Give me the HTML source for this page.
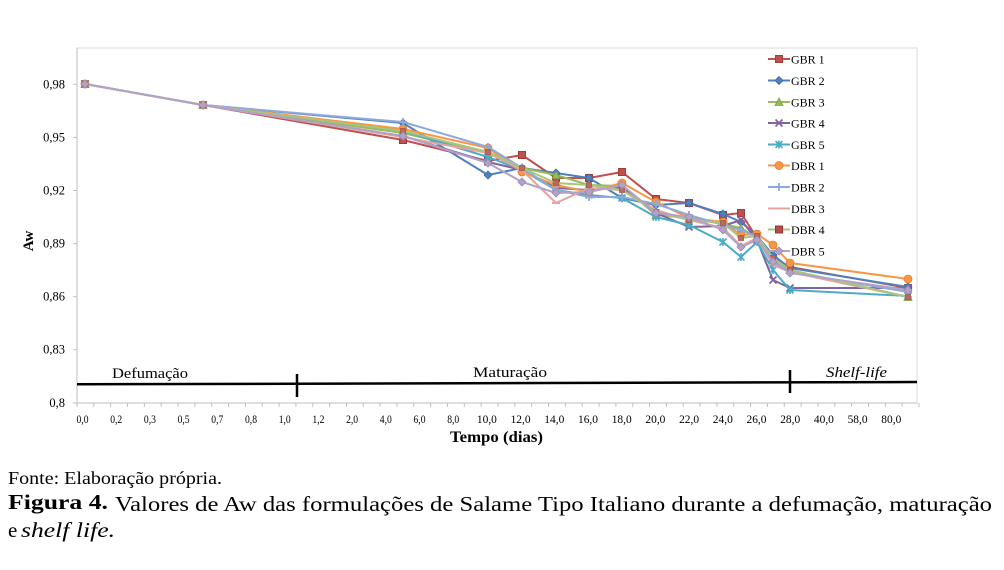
<!DOCTYPE html>
<html><head><meta charset="utf-8"><style>
html,body{margin:0;padding:0;background:#fff;}
svg{display:block;}
text{font-family:"Liberation Serif",serif;fill:#000;}
</style></head><body>
<svg width="1004" height="570" viewBox="0 0 1004 570" xmlns="http://www.w3.org/2000/svg">
<defs>
<marker id="mSq" markerUnits="userSpaceOnUse" markerWidth="10" markerHeight="10" refX="5" refY="5" viewBox="0 0 10 10"><rect x="1.5" y="1.5" width="7" height="7" fill="#C0504D" stroke="#A33B38" stroke-width="1"/></marker>
<marker id="mDi" markerUnits="userSpaceOnUse" markerWidth="10" markerHeight="10" refX="5" refY="5" viewBox="0 0 10 10"><path d="M5 1 L9 5 L5 9 L1 5Z" fill="#4F81BD" stroke="#3A6AA5" stroke-width="0.8"/></marker>
<marker id="mTri" markerUnits="userSpaceOnUse" markerWidth="10" markerHeight="10" refX="5" refY="5" viewBox="0 0 10 10"><path d="M5 1 L9 8.5 L1 8.5Z" fill="#9BBB59" stroke="#7E9E3E" stroke-width="0.8"/></marker>
<marker id="mX" markerUnits="userSpaceOnUse" markerWidth="10" markerHeight="10" refX="5" refY="5" viewBox="0 0 10 10"><path d="M1.5 1.5 L8.5 8.5 M8.5 1.5 L1.5 8.5" stroke="#8064A2" stroke-width="1.8"/></marker>
<marker id="mStar" markerUnits="userSpaceOnUse" markerWidth="10" markerHeight="10" refX="5" refY="5" viewBox="0 0 10 10"><path d="M1.5 1.5 L8.5 8.5 M8.5 1.5 L1.5 8.5 M5 1 L5 9" stroke="#4BACC6" stroke-width="1.6"/></marker>
<marker id="mCir" markerUnits="userSpaceOnUse" markerWidth="10" markerHeight="10" refX="5" refY="5" viewBox="0 0 10 10"><circle cx="5" cy="5" r="4" fill="#F79646" stroke="#E07F2F" stroke-width="0.8"/></marker>
<marker id="mPlus" markerUnits="userSpaceOnUse" markerWidth="10" markerHeight="10" refX="5" refY="5" viewBox="0 0 10 10"><path d="M1 5 L9 5 M5 1 L5 9" stroke="#8EA9DB" stroke-width="1.8"/></marker>
<marker id="mDash" markerUnits="userSpaceOnUse" markerWidth="10" markerHeight="10" refX="5" refY="5" viewBox="0 0 10 10"><path d="M1 5 L9 5" stroke="#E3A3A1" stroke-width="2"/></marker>
<marker id="mSq2" markerUnits="userSpaceOnUse" markerWidth="10" markerHeight="10" refX="5" refY="5" viewBox="0 0 10 10"><rect x="1.5" y="1.5" width="7" height="7" fill="#B64B47" stroke="#9A3431" stroke-width="1"/></marker>
<marker id="mSq3" markerUnits="userSpaceOnUse" markerWidth="10" markerHeight="10" refX="5" refY="5" viewBox="0 0 10 10"><rect x="2.5" y="2.5" width="5" height="5" fill="#B86A5F" stroke="#A5584D" stroke-width="0.8"/></marker>
<marker id="mLav" markerUnits="userSpaceOnUse" markerWidth="10" markerHeight="10" refX="5" refY="5" viewBox="0 0 10 10"><path d="M5 1 L9 5 L5 9 L1 5Z" fill="#B3A2C7" stroke="#9C8AB3" stroke-width="0.8"/></marker>
</defs>

<!-- plot area -->
<rect x="77" y="48" width="840" height="355" fill="#fff" stroke="#d9d9d9" stroke-width="1"/>
<line x1="77" y1="403" x2="917" y2="403" stroke="#bfbfbf" stroke-width="1"/>
<line x1="77" y1="48" x2="77" y2="403" stroke="#bfbfbf" stroke-width="1"/>
<!-- x ticks -->
<path d="M76.5 405 L920 405" stroke="#bfbfbf" stroke-width="4" stroke-dasharray="1 15.84" fill="none"/>
<!-- y ticks -->
<path d="M73 84.3H77M73 137.4H77M73 190.5H77M73 243.6H77M73 296.7H77M73 349.8H77M73 403H77" stroke="#bfbfbf" stroke-width="1"/>

<!-- y labels -->
<g font-size="12.5" text-anchor="end">
<text x="65" y="88.5">0,98</text>
<text x="65" y="141.5">0,95</text>
<text x="65" y="194.5">0,92</text>
<text x="65" y="247.5">0,89</text>
<text x="65" y="300.5">0,86</text>
<text x="65" y="353.5">0,83</text>
<text x="65" y="407">0,8</text>
</g>
<text transform="translate(33,241) rotate(-90)" font-size="15" font-weight="bold" text-anchor="middle">Aw</text>

<!-- x labels -->
<g font-size="11.5" text-anchor="middle">
<text x="82.5" y="423" textLength="12" lengthAdjust="spacingAndGlyphs">0,0</text>
<text x="116.2" y="423" textLength="12" lengthAdjust="spacingAndGlyphs">0,2</text>
<text x="149.9" y="423" textLength="12" lengthAdjust="spacingAndGlyphs">0,3</text>
<text x="183.6" y="423" textLength="12" lengthAdjust="spacingAndGlyphs">0,5</text>
<text x="217.3" y="423" textLength="12" lengthAdjust="spacingAndGlyphs">0,7</text>
<text x="251" y="423" textLength="12" lengthAdjust="spacingAndGlyphs">0,8</text>
<text x="284.7" y="423" textLength="12" lengthAdjust="spacingAndGlyphs">1,0</text>
<text x="318.4" y="423" textLength="12" lengthAdjust="spacingAndGlyphs">1,2</text>
<text x="352.1" y="423" textLength="12" lengthAdjust="spacingAndGlyphs">2,0</text>
<text x="385.8" y="423" textLength="12" lengthAdjust="spacingAndGlyphs">4,0</text>
<text x="419.5" y="423" textLength="12" lengthAdjust="spacingAndGlyphs">6,0</text>
<text x="453.2" y="423" textLength="12" lengthAdjust="spacingAndGlyphs">8,0</text>
<text x="486.9" y="423" textLength="20" lengthAdjust="spacingAndGlyphs">10,0</text>
<text x="520.6" y="423" textLength="20" lengthAdjust="spacingAndGlyphs">12,0</text>
<text x="554.3" y="423" textLength="20" lengthAdjust="spacingAndGlyphs">14,0</text>
<text x="588" y="423" textLength="20" lengthAdjust="spacingAndGlyphs">16,0</text>
<text x="621.7" y="423" textLength="20" lengthAdjust="spacingAndGlyphs">18,0</text>
<text x="655.4" y="423" textLength="20" lengthAdjust="spacingAndGlyphs">20,0</text>
<text x="689.1" y="423" textLength="20" lengthAdjust="spacingAndGlyphs">22,0</text>
<text x="722.8" y="423" textLength="20" lengthAdjust="spacingAndGlyphs">24,0</text>
<text x="756.5" y="423" textLength="20" lengthAdjust="spacingAndGlyphs">26,0</text>
<text x="790.2" y="423" textLength="20" lengthAdjust="spacingAndGlyphs">28,0</text>
<text x="823.9" y="423" textLength="20" lengthAdjust="spacingAndGlyphs">40,0</text>
<text x="857.6" y="423" textLength="20" lengthAdjust="spacingAndGlyphs">58,0</text>
<text x="891.3" y="423" textLength="20" lengthAdjust="spacingAndGlyphs">80,0</text>
</g>
<text x="450" y="442" font-size="15.5" font-weight="bold" textLength="93" lengthAdjust="spacingAndGlyphs">Tempo (dias)</text>

<!-- phase line -->
<path d="M77 384.3 L917 382" stroke="#000" stroke-width="2.5" fill="none"/>
<path d="M297 374 L297 397 M790 370 L790 393" stroke="#000" stroke-width="2.5" fill="none"/>
<text x="112" y="378" font-size="15" textLength="76" lengthAdjust="spacingAndGlyphs">Defumação</text>
<text x="473" y="377" font-size="15" textLength="74" lengthAdjust="spacingAndGlyphs">Maturação</text>
<text x="826" y="377" font-size="15" font-style="italic" textLength="61" lengthAdjust="spacingAndGlyphs">Shelf-life</text>

<!-- series -->
<g fill="none" stroke-width="2" stroke-linejoin="round">
<polyline stroke="#C0504D" marker-start="url(#mSq)" marker-mid="url(#mSq)" marker-end="url(#mSq)" points="85,84 203,105 403,140 488,161 522,155 556,178 589,178 622,172 656,199 689,203 723,215 741,213 757,238 773,258 790,267 908,288"/>
<polyline stroke="#4F81BD" marker-start="url(#mDi)" marker-mid="url(#mDi)" marker-end="url(#mDi)" points="85,84 203,105 403,123 488,175 522,168 556,173 589,178 622,198 656,205 689,203 723,214 741,222 757,236 773,255 790,268 908,287"/>
<polyline stroke="#9BBB59" marker-start="url(#mTri)" marker-mid="url(#mTri)" marker-end="url(#mTri)" points="85,84 203,105 403,133 488,153 522,168 556,175 589,185 622,186 656,215 689,218 723,224 741,228 757,238 773,262 790,270 908,297"/>
<polyline stroke="#8064A2" marker-start="url(#mX)" marker-mid="url(#mX)" marker-end="url(#mX)" points="85,84 203,105 403,136 488,162 522,170 556,188 589,190 622,187 656,213 689,227 723,226 741,220 757,240 773,280 790,288 908,288"/>
<polyline stroke="#4BACC6" marker-start="url(#mStar)" marker-mid="url(#mStar)" marker-end="url(#mStar)" points="85,84 203,105 403,131 488,157 522,170 556,190 589,195 622,198 656,217 689,225 723,242 741,257 757,242 773,270 790,290 908,296"/>
<polyline stroke="#F79646" marker-start="url(#mCir)" marker-mid="url(#mCir)" marker-end="url(#mCir)" points="85,84 203,105 403,129 488,148 522,172 556,185 589,192 622,183 656,202 689,218 723,222 741,235 757,234 773,245 790,263 908,279"/>
<polyline stroke="#8EA9DB" marker-start="url(#mPlus)" marker-mid="url(#mPlus)" marker-end="url(#mPlus)" points="85,84 203,105 403,122 488,147 522,168 556,190 589,197 622,197 656,204 689,215 723,225 741,230 757,237 773,260 790,272 908,292"/>
<polyline stroke="#E3A3A1" marker-start="url(#mDash)" marker-mid="url(#mDash)" marker-end="url(#mDash)" points="85,84 203,105 403,137 488,153 522,170 556,203 589,188 622,190 656,210 689,220 723,228 741,246 757,238 773,265 790,272 908,297"/>
<polyline stroke="#A9C47F" marker-start="url(#mSq3)" marker-mid="url(#mSq3)" marker-end="url(#mSq3)" points="85,84 203,105 403,131 488,152 522,168 556,183 589,185 622,190 656,212 689,220 723,223 741,238 757,236 773,258 790,270 908,297"/>
<polyline stroke="#B3A2C7" marker-start="url(#mLav)" marker-mid="url(#mLav)" marker-end="url(#mLav)" points="85,84 203,105 403,136 488,163 522,182 556,193 589,192 622,185 656,213 689,217 723,230 741,247 757,240 773,262 790,273 908,290"/>
</g>

<!-- legend -->
<g fill="none" stroke-width="2">
<polyline stroke="#C0504D" marker-mid="url(#mSq)" points="768,59 779,59 790,59"/>
<polyline stroke="#4F81BD" marker-mid="url(#mDi)" points="768,80.5 779,80.5 790,80.5"/>
<polyline stroke="#9BBB59" marker-mid="url(#mTri)" points="768,102 779,102 790,102"/>
<polyline stroke="#8064A2" marker-mid="url(#mX)" points="768,123 779,123 790,123"/>
<polyline stroke="#4BACC6" marker-mid="url(#mStar)" points="768,144.5 779,144.5 790,144.5"/>
<polyline stroke="#F79646" marker-mid="url(#mCir)" points="768,165.5 779,165.5 790,165.5"/>
<polyline stroke="#8EA9DB" marker-mid="url(#mPlus)" points="768,187 779,187 790,187"/>
<polyline stroke="#E3A3A1" marker-mid="url(#mDash)" points="768,208.5 779,208.5 790,208.5"/>
<polyline stroke="#A9C47F" marker-mid="url(#mSq2)" points="768,229.5 779,229.5 790,229.5"/>
<polyline stroke="#B3A2C7" marker-mid="url(#mLav)" points="768,251 779,251 790,251"/>
</g>
<g font-size="12">
<text x="791" y="63.5">GBR 1</text>
<text x="791" y="85">GBR 2</text>
<text x="791" y="106.5">GBR 3</text>
<text x="791" y="127.5">GBR 4</text>
<text x="791" y="149">GBR 5</text>
<text x="791" y="170">DBR 1</text>
<text x="791" y="191.5">DBR 2</text>
<text x="791" y="213">DBR 3</text>
<text x="791" y="234">DBR 4</text>
<text x="791" y="255.5">DBR 5</text>
</g>

<!-- caption -->
<g font-family="Liberation Serif, serif">
<text x="8" y="484" font-size="18" font-family="Liberation Serif, serif" textLength="214" lengthAdjust="spacingAndGlyphs">Fonte: Elaboração própria.</text>
<text x="8" y="509" font-size="21" font-weight="bold" font-family="Liberation Serif, serif" textLength="100" lengthAdjust="spacingAndGlyphs">Figura 4.</text>
<text x="115" y="511" font-size="21" font-family="Liberation Serif, serif" textLength="877" lengthAdjust="spacingAndGlyphs">Valores de Aw das formulações de Salame Tipo Italiano durante a defumação, maturação</text>
<text x="8" y="537" font-size="21" font-family="Liberation Serif, serif">e</text>
<text x="21" y="537" font-size="21" font-style="italic" font-family="Liberation Serif, serif" textLength="94" lengthAdjust="spacingAndGlyphs">shelf life.</text>
</g>
</svg>
</body></html>
